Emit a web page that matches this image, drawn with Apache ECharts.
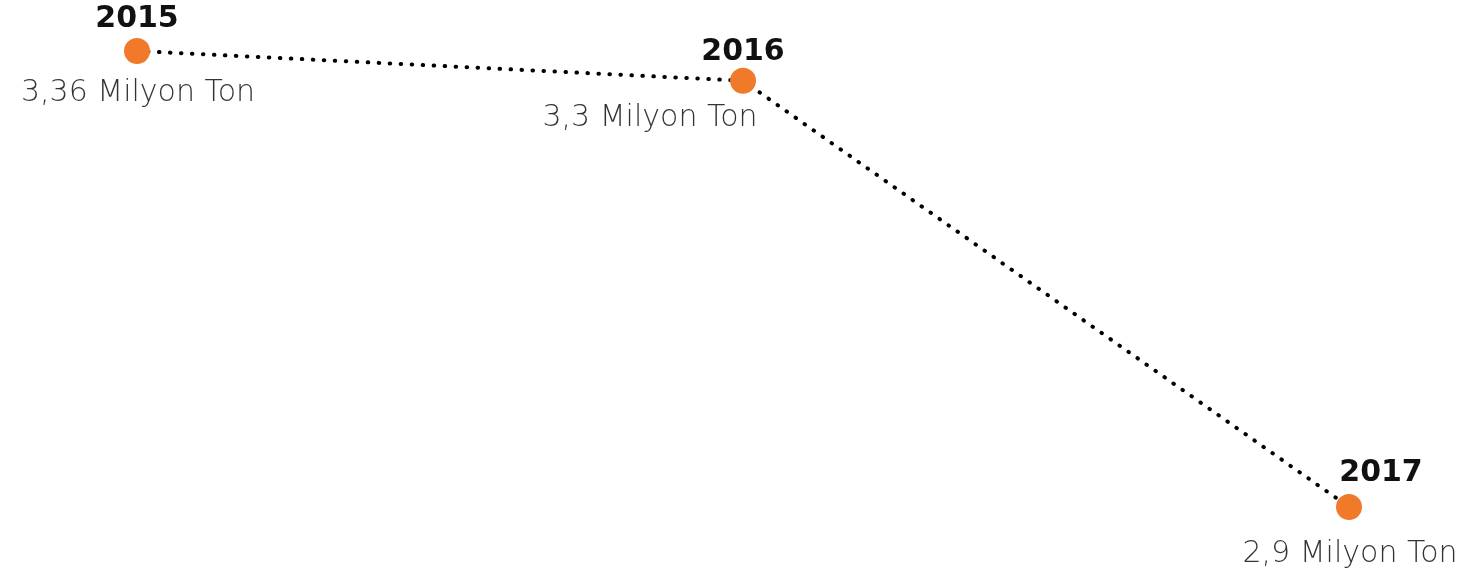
<!DOCTYPE html>
<html><head><meta charset="utf-8">
<script src="https://cdn.jsdelivr.net/npm/echarts@6/dist/echarts.min.js"></script>
<style>html,body{margin:0;padding:0;background:#fff}#c{width:1484px;height:574px}</style>
</head><body><div id="c"></div>
<script>
const years = ['2015', '2016', '2017'];
const values = [3.36, 3.33, 2.9];
const valueLabels = ['3,36 Milyon Ton', '3,3 Milyon Ton', '2,9 Milyon Ton'];

const yearOffsets = [[0, -32], [0, -29], [32, -34]];
const valueOffsets = [[1, 42], [-93, 37], [1, 47]];

const chart = echarts.init(document.getElementById('c'));
chart.setOption({
  animation: false,
  grid: {left: 137, right: 135, top: 51, bottom: 67},
  xAxis: {type: 'category', data: years, boundaryGap: false, show: false},
  yAxis: {type: 'value', min: 2.9, max: 3.36, show: false},
  series: [
    {
      type: 'line',
      data: values.map((v, i) => ({
        value: v,
        label: {show: true, position: 'inside', offset: yearOffsets[i], formatter: years[i]}
      })),
      symbol: 'circle', symbolSize: 26,
      itemStyle: {color: '#F07A2A'},
      lineStyle: {color: '#000', width: 4, type: [0.5, 10.5], cap: 'round'},
      label: {fontFamily: 'DejaVu Sans', fontWeight: 'bold', fontSize: 30, color: '#111'},
      z: 2
    },
    {
      type: 'scatter',
      data: values.map((v, i) => ({
        value: v,
        label: {show: true, position: 'inside', offset: valueOffsets[i], formatter: valueLabels[i]}
      })),
      symbolSize: 0,
      label: {fontFamily: 'DejaVu Sans', fontWeight: 200, fontSize: 30, color: '#000'},
      z: 3
    }
  ]
});
</script></body></html>
